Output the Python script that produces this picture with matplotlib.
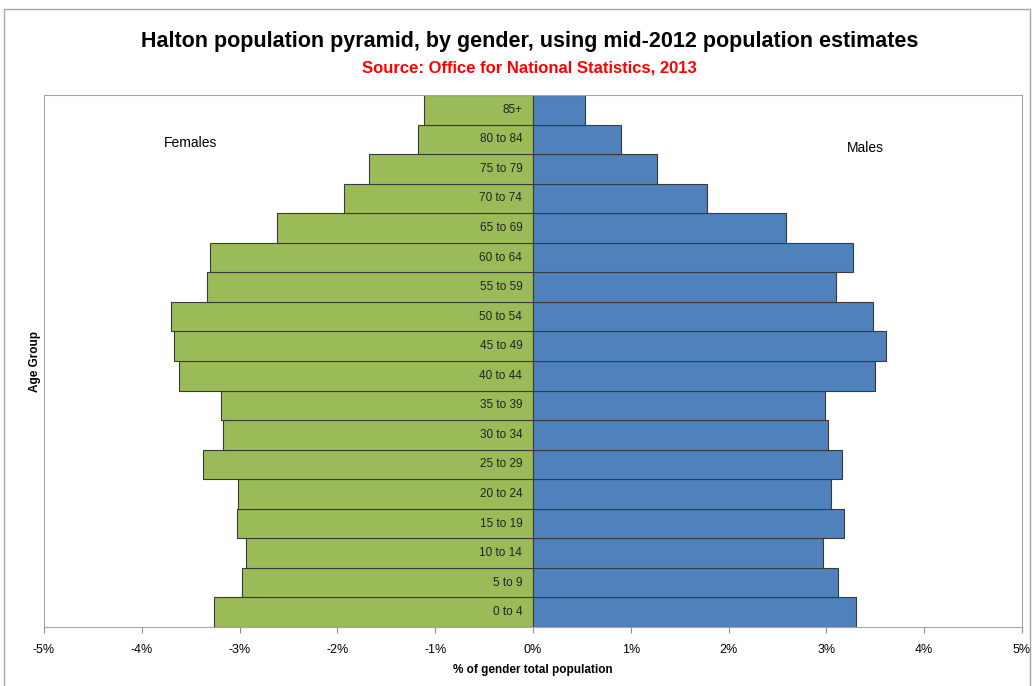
import matplotlib
matplotlib.use("Agg")
import matplotlib.pyplot as plt
from matplotlib.patches import Rectangle
from matplotlib.ticker import FuncFormatter

plt.rcParams["font.family"] = ["Liberation Sans Narrow", "Liberation Sans", "DejaVu Sans"]

AGE_GROUPS = ["0 to 4", "5 to 9", "10 to 14", "15 to 19", "20 to 24", "25 to 29",
              "30 to 34", "35 to 39", "40 to 44", "45 to 49", "50 to 54", "55 to 59",
              "60 to 64", "65 to 69", "70 to 74", "75 to 79", "80 to 84", "85+"]
FEMALES = [3.26, 2.98, 2.93, 3.03, 3.02, 3.37, 3.17, 3.19, 3.62, 3.67, 3.70, 3.33,
           3.30, 2.62, 1.93, 1.68, 1.18, 1.11]
MALES = [3.30, 3.12, 2.97, 3.18, 3.05, 3.16, 3.02, 2.99, 3.50, 3.61, 3.48, 3.10,
         3.27, 2.59, 1.78, 1.27, 0.90, 0.53]

GREEN = "#9BBB59"
BLUE = "#4F81BD"

fig = plt.figure(figsize=(10.36, 6.86), dpi=100)
fig.patches.append(Rectangle((0.004, -0.01), 0.99, 0.997, transform=fig.transFigure,
                             fill=False, edgecolor="#a6a6a6", linewidth=1))
ax = fig.add_axes([0.0425, 0.086, 0.944, 0.7755])

y = range(len(AGE_GROUPS))
ax.barh(y, [-v for v in FEMALES], height=1.0, color=GREEN, edgecolor="#3a3a3a", linewidth=0.8)
ax.barh(y, MALES, height=1.0, color=BLUE, edgecolor="#3a3a3a", linewidth=0.8)

for i, label in enumerate(AGE_GROUPS):
    ax.text(-0.11, i, label, ha="right", va="center", fontsize=8.5, color="#222222")

ax.set_xlim(-5, 5)
ax.set_ylim(-0.5, len(AGE_GROUPS) - 0.5)
ax.set_xticks(range(-5, 6))
ax.xaxis.set_major_formatter(FuncFormatter(lambda v, _: f"{int(v)}%"))
ax.tick_params(axis="x", direction="out", length=4, color="#8c8c8c", labelsize=9, pad=8)
ax.set_yticks([])
for side in ax.spines.values():
    side.set_color("#a6a6a6")

ax.set_xlabel("% of gender total population", fontsize=8.5, fontweight="bold", labelpad=6)
ax.set_ylabel("Age Group", fontsize=8.5, fontweight="bold", labelpad=2)

ax.text(-3.5, 15.88, "Females", ha="center", va="center", fontsize=10)
ax.text(3.4, 15.71, "Males", ha="center", va="center", fontsize=10)

fig.text(0.511, 0.94, "Halton population pyramid, by gender, using mid-2012 population estimates",
         ha="center", va="center", fontsize=15.5, fontweight="bold")
fig.text(0.511, 0.901, "Source: Office for National Statistics, 2013",
         ha="center", va="center", fontsize=12, fontweight="bold", color="#ff0000")

fig.savefig("out.png", dpi=100)
